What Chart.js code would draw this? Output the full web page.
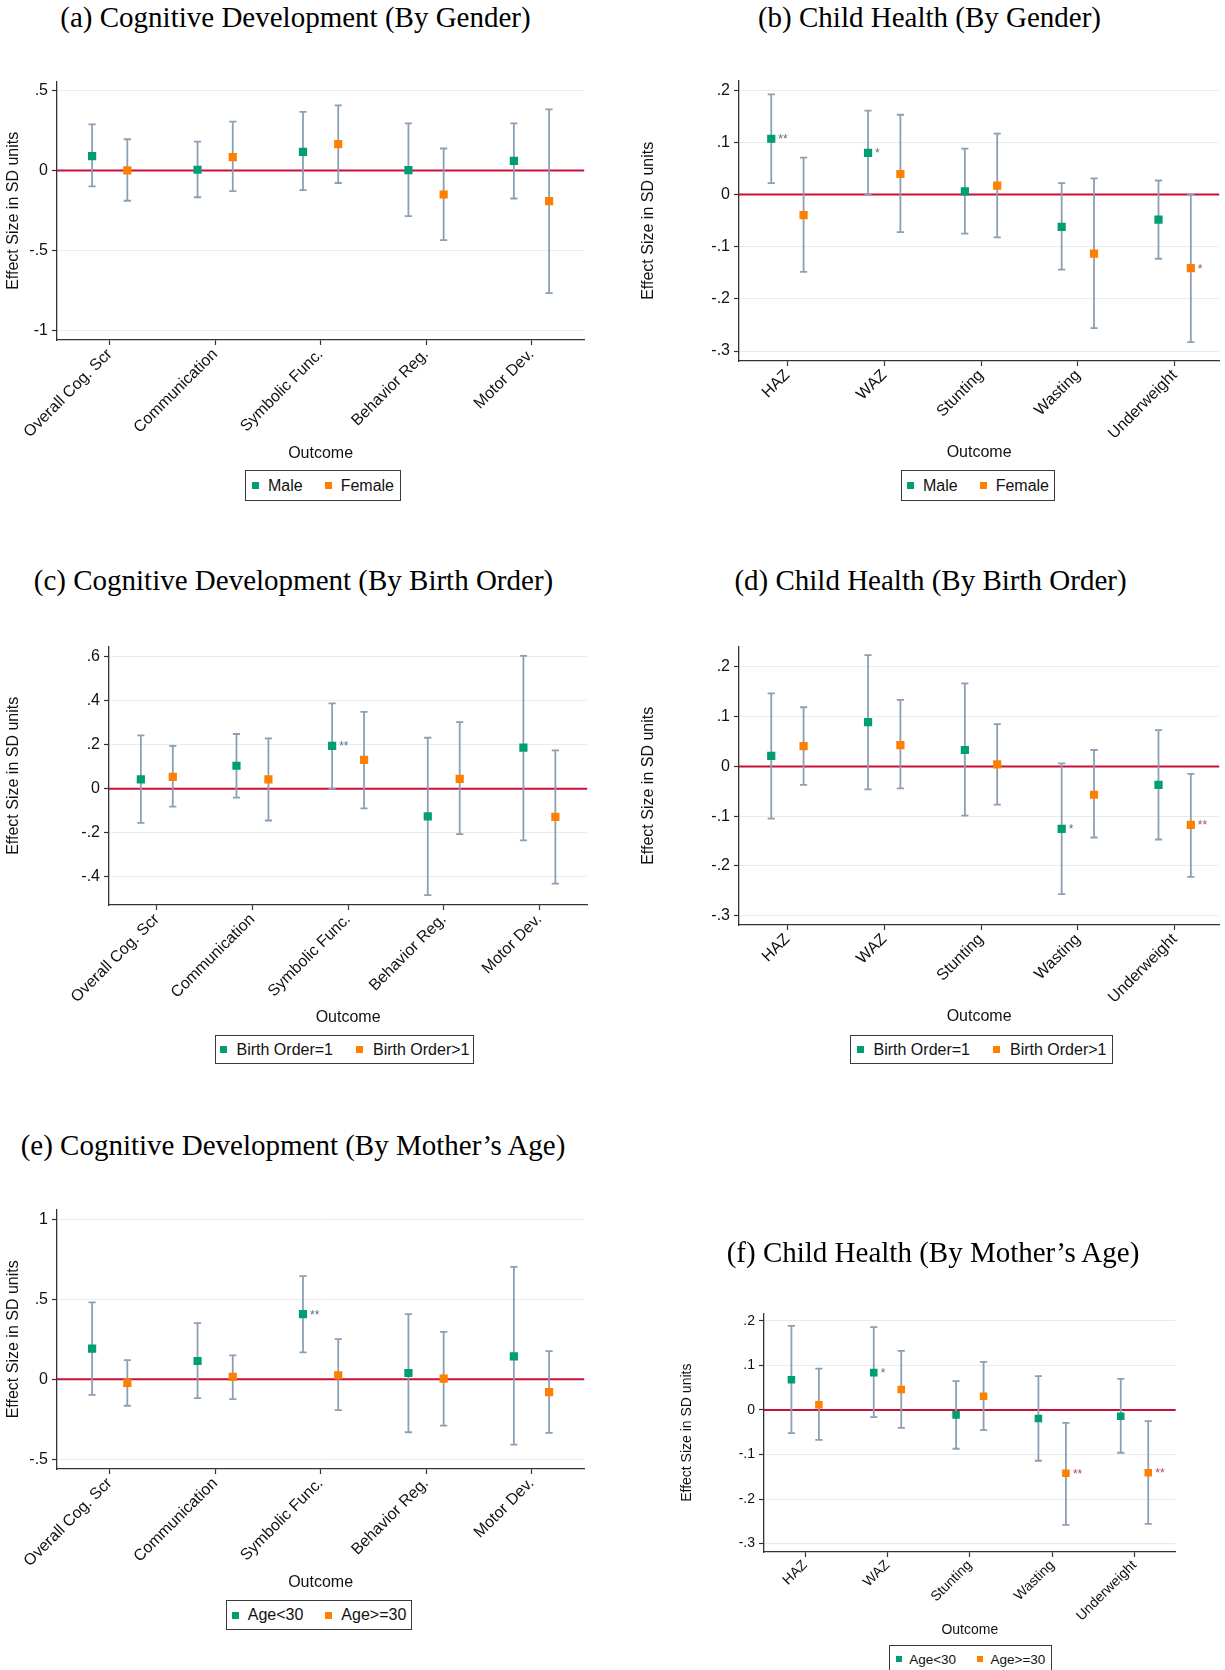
<!DOCTYPE html>
<html>
<head>
<meta charset="utf-8">
<script src="https://cdn.jsdelivr.net/npm/chart.js@4.4.1/dist/chart.umd.min.js"></script>
<style>
html,body{margin:0;padding:0;width:1225px;height:1670px;overflow:hidden;background:#fff;}
.title{position:absolute;width:700px;text-align:center;font-family:'Liberation Serif','Times New Roman',serif;font-size:29px;line-height:29px;color:#000;white-space:nowrap;}
canvas{position:absolute;}
.legend{position:absolute;box-sizing:border-box;border:1px solid #3a3a3a;display:flex;align-items:center;justify-content:center;font-family:'Liberation Sans',Arial,sans-serif;color:#111;white-space:nowrap;background:#fff;}
.legend .it{display:flex;align-items:center;}
.legend .mk{display:inline-block;}
</style>
</head>
<body>
<script>
// ---------------- DATA ----------------
const cogCategories = ["Overall Cog. Scr", "Communication", "Symbolic Func.", "Behavior Reg.", "Motor Dev."];
const healthCategories = ["HAZ", "WAZ", "Stunting", "Wasting", "Underweight"];

const yTicksA = [-1, -0.5, 0, 0.5];
const yTicksB = [-0.3, -0.2, -0.1, 0, 0.1, 0.2];
const yTicksC = [-0.4, -0.2, 0, 0.2, 0.4, 0.6];
const yTicksD = [-0.3, -0.2, -0.1, 0, 0.1, 0.2];
const yTicksE = [-0.5, 0, 0.5, 1];
const yTicksF = [-0.3, -0.2, -0.1, 0, 0.1, 0.2];

// (a) Cognitive development by gender
const aMaleEst    = [0.089, 0.004, 0.116, 0.002, 0.060];
const aMaleLow    = [-0.100, -0.168, -0.124, -0.286, -0.176];
const aMaleHigh   = [0.288, 0.180, 0.367, 0.295, 0.295];
const aMaleStars  = ["", "", "", "", ""];
const aFemaleEst  = [0.000, 0.083, 0.164, -0.151, -0.193];
const aFemaleLow  = [-0.190, -0.130, -0.079, -0.436, -0.768];
const aFemaleHigh = [0.195, 0.305, 0.407, 0.137, 0.382];
const aFemaleStars= ["", "", "", "", ""];

// (b) Child health by gender
const bMaleEst    = [0.107, 0.080, 0.006, -0.062, -0.048];
const bMaleLow    = [0.022, 0.000, -0.075, -0.144, -0.123];
const bMaleHigh   = [0.192, 0.161, 0.088, 0.022, 0.027];
const bMaleStars  = ["**", "*", "", "", ""];
const bFemaleEst  = [-0.0395, 0.0395, 0.017, -0.113, -0.141];
const bFemaleLow  = [-0.148, -0.072, -0.082, -0.256, -0.283];
const bFemaleHigh = [0.071, 0.153, 0.117, 0.031, 0.000];
const bFemaleStars= ["", "", "", "", "*"];

// (c) Cognitive development by birth order
const cFirstEst    = [0.042, 0.104, 0.194, -0.125, 0.186];
const cFirstLow    = [-0.155, -0.040, 0.000, -0.482, -0.234];
const cFirstHigh   = [0.242, 0.248, 0.387, 0.231, 0.602];
const cFirstStars  = ["", "", "**", "", ""];
const cLaterEst    = [0.054, 0.042, 0.131, 0.045, -0.128];
const cLaterLow    = [-0.081, -0.144, -0.089, -0.206, -0.430];
const cLaterHigh   = [0.194, 0.228, 0.348, 0.302, 0.174];
const cLaterStars  = ["", "", "", "", ""];

// (d) Child health by birth order
const dFirstEst    = [0.021, 0.089, 0.033, -0.1255, -0.037];
const dFirstLow    = [-0.105, -0.046, -0.099, -0.257, -0.147];
const dFirstHigh   = [0.147, 0.224, 0.167, 0.006, 0.073];
const dFirstStars  = ["", "", "", "*", ""];
const dLaterEst    = [0.041, 0.043, 0.004, -0.057, -0.1175];
const dLaterLow    = [-0.037, -0.044, -0.077, -0.143, -0.222];
const dLaterHigh   = [0.119, 0.134, 0.085, 0.033, -0.015];
const dLaterStars  = ["", "", "", "", "**"];

// (e) Cognitive development by mother's age
const eYoungEst    = [0.191, 0.114, 0.407, 0.039, 0.143];
const eYoungLow    = [-0.098, -0.118, 0.168, -0.332, -0.409];
const eYoungHigh   = [0.481, 0.351, 0.645, 0.407, 0.703];
const eYoungStars  = ["", "", "**", "", ""];
const eOldEst      = [-0.023, 0.0145, 0.025, 0.004, -0.081];
const eOldLow      = [-0.166, -0.124, -0.193, -0.290, -0.336];
const eOldHigh     = [0.120, 0.149, 0.251, 0.297, 0.176];
const eOldStars    = ["", "", "", "", ""];

// (f) Child health by mother's age
const fYoungEst    = [0.068, 0.084, -0.011, -0.019, -0.014];
const fYoungLow    = [-0.052, -0.016, -0.087, -0.114, -0.096];
const fYoungHigh   = [0.189, 0.186, 0.065, 0.076, 0.070];
const fYoungStars  = ["", "*", "", "", ""];
const fOldEst      = [0.012, 0.046, 0.031, -0.142, -0.141];
const fOldLow      = [-0.067, -0.040, -0.045, -0.258, -0.256];
const fOldHigh     = [0.093, 0.133, 0.108, -0.029, -0.025];
const fOldStars    = ["", "", "", "**", "**"];

// ---------------- STYLE ----------------
const GREEN = '#009E73';
const ORANGE = '#FF7F00';
const ERR = '#8CA0B4';
const ZERO = '#C8103A';
const AXIS = '#333333';
const GRID = '#EBEBEB';
const STAR_COLORS = ['#55708F', '#B04A5A'];
const SANS = "'Liberation Sans', Arial, Helvetica, sans-serif";
const OFFSETS = [-0.167, 0.167];

const panels = [
  { title: '(a) Cognitive Development (By Gender)', tx: 295.5, ty: 2.7,
    cats: cogCategories, yTicks: yTicksA, yMin: -1.062, yMax: 0.556, xMin: 0.5, xMax: 5.5,
    series: [
      { name: 'Male', est: aMaleEst, lo: aMaleLow, hi: aMaleHigh, stars: aMaleStars },
      { name: 'Female', est: aFemaleEst, lo: aFemaleLow, hi: aFemaleHigh, stars: aFemaleStars }],
    cv: { left: 0, top: 68, width: 590, height: 395 }, yW: 57, xH: 123, padTop: 12, padRight: 3, yTitlePad: 3.9,
    tickSize: 16, titleSize: 16,
    lg: { left: 245, top: 470, width: 156, height: 31, size: 16, mk: 7, mgap: 9, igap: 22 } },
  { title: '(b) Child Health (By Gender)', tx: 929.5, ty: 2.7,
    cats: healthCategories, yTicks: yTicksB, yMin: -0.319, yMax: 0.2185, xMin: 0.5, xMax: 5.46,
    series: [
      { name: 'Male', est: bMaleEst, lo: bMaleLow, hi: bMaleHigh, stars: bMaleStars },
      { name: 'Female', est: bFemaleEst, lo: bFemaleLow, hi: bFemaleHigh, stars: bFemaleStars }],
    cv: { left: 635, top: 67, width: 590, height: 395 }, yW: 104, xH: 101, padTop: 12, padRight: 3, yTitlePad: 4.4,
    tickSize: 16, titleSize: 16,
    lg: { left: 901, top: 470, width: 154, height: 31, size: 16, mk: 7, mgap: 9, igap: 22 } },
  { title: '(c) Cognitive Development (By Birth Order)', tx: 293.5, ty: 566.2,
    cats: cogCategories, yTicks: yTicksC, yMin: -0.527, yMax: 0.644, xMin: 0.5, xMax: 5.5,
    series: [
      { name: 'Birth Order=1', est: cFirstEst, lo: cFirstLow, hi: cFirstHigh, stars: cFirstStars },
      { name: 'Birth Order>1', est: cLaterEst, lo: cLaterLow, hi: cLaterHigh, stars: cLaterStars }],
    cv: { left: 0, top: 633, width: 593, height: 394 }, yW: 109, xH: 122, padTop: 12, padRight: 3, yTitlePad: 3.9,
    tickSize: 16, titleSize: 16,
    lg: { left: 215, top: 1035, width: 259, height: 29, size: 16, mk: 7, mgap: 10, igap: 23 } },
  { title: '(d) Child Health (By Birth Order)', tx: 930.5, ty: 566.2,
    cats: healthCategories, yTicks: yTicksD, yMin: -0.319, yMax: 0.241, xMin: 0.5, xMax: 5.46,
    series: [
      { name: 'Birth Order=1', est: dFirstEst, lo: dFirstLow, hi: dFirstHigh, stars: dFirstStars },
      { name: 'Birth Order>1', est: dLaterEst, lo: dLaterLow, hi: dLaterHigh, stars: dLaterStars }],
    cv: { left: 635, top: 633, width: 590, height: 393 }, yW: 104, xH: 101, padTop: 12, padRight: 3, yTitlePad: 4.4,
    tickSize: 16, titleSize: 16,
    lg: { left: 850, top: 1035, width: 263, height: 29, size: 16, mk: 7, mgap: 10, igap: 23 } },
  { title: '(e) Cognitive Development (By Mother\u2019s Age)', tx: 293, ty: 1130.7,
    cats: cogCategories, yTicks: yTicksE, yMin: -0.562, yMax: 1.062, xMin: 0.5, xMax: 5.5,
    series: [
      { name: 'Age<30', est: eYoungEst, lo: eYoungLow, hi: eYoungHigh, stars: eYoungStars },
      { name: 'Age>=30', est: eOldEst, lo: eOldLow, hi: eOldHigh, stars: eOldStars }],
    cv: { left: 0, top: 1196, width: 590, height: 396 }, yW: 57, xH: 123, padTop: 12, padRight: 3, yTitlePad: 3.9,
    tickSize: 16, titleSize: 16,
    lg: { left: 226, top: 1600, width: 186, height: 30, size: 16, mk: 7, mgap: 9, igap: 22 } },
  { title: '(f) Child Health (By Mother\u2019s Age)', tx: 933, ty: 1237.7,
    cats: healthCategories, yTicks: yTicksF, yMin: -0.319, yMax: 0.217, xMin: 0.5, xMax: 5.5,
    series: [
      { name: 'Age<30', est: fYoungEst, lo: fYoungLow, hi: fYoungHigh, stars: fYoungStars },
      { name: 'Age>=30', est: fOldEst, lo: fOldLow, hi: fOldHigh, stars: fOldStars }],
    cv: { left: 675, top: 1301, width: 506, height: 338 }, yW: 89, xH: 87, padTop: 12, padRight: 3, yTitlePad: 3.6,
    tickSize: 14, titleSize: 14, markerScale: 0.92,
    lg: { left: 889, top: 1645, width: 163, height: 28, size: 13.5, mk: 6, mgap: 7.5, igap: 21 } }
];

function fmtTick(v) {
  let s = String(Math.round(v * 1000) / 1000);
  s = s.replace(/^(-?)0\./, '$1.');
  return s;
}

const errorBarPlugin = {
  id: 'errorBars',
  beforeDatasetsDraw(chart) {
    const { ctx, chartArea } = chart;
    const x = chart.scales.x, y = chart.scales.y;
    const y0 = y.getPixelForValue(0);
    ctx.save();
    ctx.strokeStyle = ZERO;
    ctx.lineWidth = 2;
    ctx.beginPath();
    ctx.moveTo(chartArea.left, y0);
    ctx.lineTo(chartArea.right, y0);
    ctx.stroke();
    ctx.strokeStyle = ERR;
    ctx.lineWidth = 1.8;
    chart.data.datasets.forEach(ds => {
      ds.data.forEach((p, i) => {
        const px = x.getPixelForValue(p.x);
        const pl = y.getPixelForValue(ds.ciLow[i]);
        const ph = y.getPixelForValue(ds.ciHigh[i]);
        ctx.beginPath();
        ctx.moveTo(px, pl); ctx.lineTo(px, ph);
        ctx.moveTo(px - 3.6, pl); ctx.lineTo(px + 3.6, pl);
        ctx.moveTo(px - 3.6, ph); ctx.lineTo(px + 3.6, ph);
        ctx.stroke();
      });
    });
    ctx.restore();
  },
  afterDatasetsDraw(chart) {
    const { ctx } = chart;
    const x = chart.scales.x, y = chart.scales.y;
    ctx.save();
    ctx.font = '12px ' + SANS;
    ctx.textAlign = 'left';
    ctx.textBaseline = 'alphabetic';
    chart.data.datasets.forEach((ds, k) => {
      ctx.fillStyle = STAR_COLORS[k];
      ds.data.forEach((p, i) => {
        const s = ds.stars[i];
        if (!s) return;
        ctx.fillText(s, x.getPixelForValue(p.x) + 7, y.getPixelForValue(p.y) + 4.6);
      });
    });
    ctx.restore();
  }
};

Chart.defaults.font.family = SANS;
Chart.defaults.color = '#111';

panels.forEach(P => {
  // title
  const t = document.createElement('div');
  t.className = 'title';
  t.textContent = P.title;
  t.style.left = (P.tx - 350) + 'px';
  t.style.top = P.ty + 'px';
  document.body.appendChild(t);

  // canvas
  const c = document.createElement('canvas');
  c.width = P.cv.width; c.height = P.cv.height;
  c.style.left = P.cv.left + 'px'; c.style.top = P.cv.top + 'px';
  c.style.width = P.cv.width + 'px'; c.style.height = P.cv.height + 'px';
  document.body.appendChild(c);

  const colors = [GREEN, ORANGE];
  const r = 5.8 * (P.markerScale || 1);
  const datasets = P.series.map((s, k) => ({
    label: s.name,
    data: s.est.map((v, i) => ({ x: i + 1 + OFFSETS[k], y: v })),
    ciLow: s.lo, ciHigh: s.hi, stars: s.stars,
    pointStyle: 'rect', pointRadius: r, pointHoverRadius: r,
    backgroundColor: colors[k], borderColor: colors[k], borderWidth: 0, showLine: false
  }));
  const xTickValues = P.cats.map((_, i) => i + 1);

  new Chart(c, {
    type: 'scatter',
    data: { datasets },
    options: {
      responsive: false, maintainAspectRatio: false, animation: false,
      devicePixelRatio: 1,
      layout: { padding: { top: P.padTop, right: P.padRight, left: 0, bottom: 0 } },
      plugins: { legend: { display: false }, tooltip: { enabled: false } },
      events: [],
      scales: {
        x: {
          type: 'linear', min: P.xMin, max: P.xMax,
          afterBuildTicks: s => { s.ticks = xTickValues.map(v => ({ value: v })); },
          afterFit: s => { s.height = P.xH; },
          ticks: {
            callback: v => P.cats[Math.round(v) - 1],
            minRotation: 45, maxRotation: 45, autoSkip: false, padding: 0,
            font: { size: P.tickSize }, color: '#111'
          },
          grid: { drawOnChartArea: false, drawTicks: true, tickLength: 5, tickColor: AXIS, tickWidth: 1.2 },
          border: { display: true, color: AXIS, width: 1.3 },
          title: { display: true, text: 'Outcome', font: { size: P.titleSize }, color: '#111', padding: { top: 0, bottom: 0 } }
        },
        y: {
          type: 'linear', min: P.yMin, max: P.yMax,
          afterBuildTicks: s => { s.ticks = P.yTicks.map(v => ({ value: v })); },
          afterFit: s => { s.width = P.yW; },
          ticks: { callback: v => fmtTick(v), padding: 4, font: { size: P.tickSize }, color: '#111' },
          grid: { color: GRID, lineWidth: 1, drawTicks: true, tickLength: 5, tickColor: AXIS, tickWidth: 1.2 },
          border: { display: true, color: AXIS, width: 1.3 },
          title: { display: true, text: 'Effect Size in SD units', font: { size: P.titleSize }, color: '#111', padding: { top: P.yTitlePad, bottom: 0 } }
        }
      }
    },
    plugins: [errorBarPlugin]
  });

  // legend
  const L = P.lg;
  const lg = document.createElement('div');
  lg.className = 'legend';
  lg.style.left = L.left + 'px'; lg.style.top = L.top + 'px';
  lg.style.width = L.width + 'px'; lg.style.height = L.height + 'px';
  lg.style.fontSize = L.size + 'px';
  P.series.forEach((s, k) => {
    const it = document.createElement('span');
    it.className = 'it';
    if (k > 0) it.style.marginLeft = L.igap + 'px';
    const mk = document.createElement('span');
    mk.className = 'mk';
    mk.style.width = L.mk + 'px'; mk.style.height = L.mk + 'px';
    mk.style.background = colors[k];
    mk.style.marginRight = L.mgap + 'px';
    const tx = document.createElement('span');
    tx.textContent = s.name;
    it.appendChild(mk); it.appendChild(tx);
    lg.appendChild(it);
  });
  document.body.appendChild(lg);
});
</script>
</body>
</html>
